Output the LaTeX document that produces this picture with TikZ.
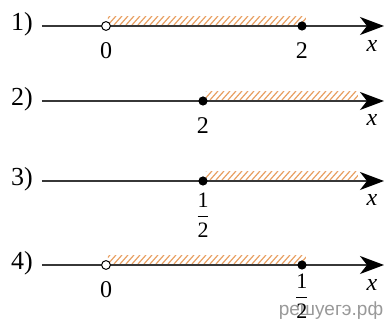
\documentclass[tikz,border=0pt]{standalone}
\usepackage{amsmath}
\usepackage{fontspec}
\setmainfont{Liberation Serif}
\newfontfamily\wmfont{Liberation Sans}
\usepackage{xcolor}
\usetikzlibrary{arrows.meta, positioning}
\definecolor{hatchorange}{RGB}{232,160,98}
\definecolor{axisgray}{RGB}{55,55,55}

\begin{document}
\begin{tikzpicture}[
    x=0.5pt, y=-0.5pt,
    axis/.style={draw=axisgray, line width=0.8pt, -{Stealth[length=12pt, width=9pt, inset=3.5pt, color=black]}},
    hatch/.style={draw=hatchorange, line width=0.6pt},
    opendot/.style={circle, draw=black, fill=white, line width=0.5pt, inner sep=0pt, minimum size=4.4pt},
    filldot/.style={circle, fill=black, inner sep=0pt, minimum size=4.6pt},
    rowlbl/.style={font=\fontsize{13}{15}\selectfont, inner sep=0pt},
    numlbl/.style={font=\fontsize{12}{14}\selectfont, inner sep=0pt},
    fraclbl/.style={font=\fontsize{11}{13}\selectfont, inner sep=0pt},
    varlbl/.style={font=\fontsize{12}{14}\selectfont\itshape, inner sep=0pt}
]
    \useasboundingbox (0,0) rectangle (387,320);

    % Watermark (under everything else)
    \node (wm) at (331,311) [font=\wmfont\fontsize{9.5}{11}\selectfont, text=black!40, inner sep=0pt] {решуегэ.рф};

    % Hatched intervals (drawn first, under the dots)
    \foreach \y/\a/\b in {26/108/306, 101/206/358, 181/206/358, 265/108/306} {
        \begin{scope}
            \clip ({\a},{\y-9}) rectangle ({\b},{\y-1});
            \foreach \h in {-12,-6,...,360} {
                \draw[hatch] ({\h},{\y-1}) -- ++(8,-9);
            }
        \end{scope}
    }

    % Row 1: (0; 2]
    \coordinate (s1) at (42,26);
    \coordinate (e1) at (384,26);
    \draw[axis] (s1) -- (e1);
    \node (r1) at (22,24) [rowlbl] {1)};
    \node (p1a) at (106,26) [opendot] {};
    \node (p1b) at (302,26) [filldot] {};
    \node (l1a) at (106,51) [numlbl] {0};
    \node (l1b) at (302,51) [numlbl] {2};
    \node (x1) at (372,46) [varlbl] {x};

    % Row 2: [2; +inf)
    \coordinate (s2) at (42,101);
    \coordinate (e2) at (384,101);
    \draw[axis] (s2) -- (e2);
    \node (r2) at (22,99) [rowlbl] {2)};
    \node (p2) at (203,101) [filldot] {};
    \node (l2) at (203,126) [numlbl] {2};
    \node (x2) at (372,120) [varlbl] {x};

    % Row 3: [1/2; +inf)
    \coordinate (s3) at (42,181);
    \coordinate (e3) at (384,181);
    \draw[axis] (s3) -- (e3);
    \node (r3) at (22,179) [rowlbl] {3)};
    \node (p3) at (203,181) [filldot] {};
    \node (l3) at (203,215) [fraclbl] {$\dfrac{\text{1}}{\text{2}}$};
    \node (x3) at (372,200) [varlbl] {x};

    % Row 4: (0; 1/2]
    \coordinate (s4) at (42,265);
    \coordinate (e4) at (384,265);
    \draw[axis] (s4) -- (e4);
    \node (r4) at (22,263) [rowlbl] {4)};
    \node (p4a) at (106,265) [opendot] {};
    \node (p4b) at (302,265) [filldot] {};
    \node (l4a) at (106,290) [numlbl] {0};
    \node (l4b) at (302,296) [fraclbl] {$\dfrac{\text{1}}{\text{2}}$};
    \node (x4) at (372,285) [varlbl] {x};
\end{tikzpicture}
\end{document}
